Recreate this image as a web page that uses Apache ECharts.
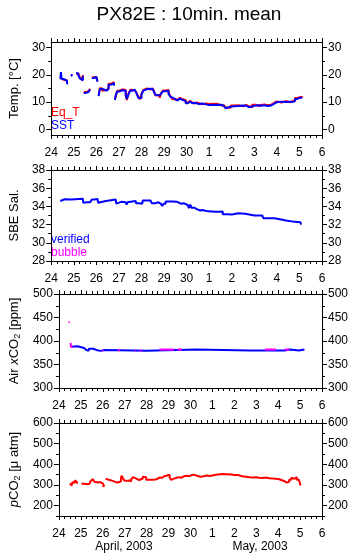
<!DOCTYPE html>
<html>
<head>
<meta charset="utf-8">
<script src="https://cdn.jsdelivr.net/npm/echarts@6/dist/echarts.min.js"></script>
<style>
  html, body { margin: 0; padding: 0; background: #fff; }
  #chart { width: 355px; height: 558px; }
</style>
</head>
<body>
<div id="chart"></div>
<script>
// x = days since 24 April 2003 00:00, null = gap in the record
const dayLabels = ['24', '25', '26', '27', '28', '29', '30', '1', '2', '3', '4', '5', '6'];

const sst = [
  [0.40, 18.5], [0.43, 21.0], [0.46, 18.5], [0.55, 18.3], [0.62, 17.8], [0.70, 16.8], [0.75, 16.6], null,
  [0.88, 19.5], [0.93, 20.2], null,
  [1.10, 20.6], [1.20, 19.8], [1.28, 18.6], [1.36, 18.0], [1.40, 19.6], null,
  [1.44, 13.4], [1.55, 13.8], [1.66, 14.3], [1.72, 14.6], null,
  [1.80, 18.8], [1.90, 19.3], [2.00, 18.9], [2.05, 17.5], null,
  [2.10, 12.2], [2.15, 14.8], [2.25, 14.6], [2.35, 14.2], [2.45, 14.8], [2.54, 16.4], [2.65, 16.2], [2.72, 17.0], [2.78, 16.0], null,
  [2.82, 10.8], [2.86, 12.5], [2.92, 13.9], [3.02, 14.4], [3.15, 14.6], [3.22, 14.2], [3.30, 12.4], [3.35, 11.2],
  [3.42, 12.8], [3.50, 14.2], [3.60, 14.6], [3.70, 14.3], [3.78, 13.2], [3.86, 11.6], [3.92, 11.4], [4.00, 12.8],
  [4.08, 14.2], [4.15, 14.8], [4.25, 14.9], [4.40, 14.8], [4.50, 14.6], [4.56, 13.6], [4.62, 12.7], [4.70, 12.4],
  [4.80, 11.9], [4.88, 13.2], [4.96, 14.0], [5.05, 14.6], [5.12, 14.2], [5.20, 13.0], [5.28, 12.0], [5.36, 11.4],
  [5.45, 10.8], [5.52, 10.6], [5.60, 11.3], [5.70, 10.9], [5.80, 11.3], [5.88, 10.4], [5.96, 9.6], [6.05, 10.2],
  [6.15, 9.6], [6.25, 9.8], [6.35, 9.6], [6.45, 9.3], [6.55, 9.5], [6.70, 9.2], [6.85, 9.0], [7.00, 9.1],
  [7.20, 9.0], [7.40, 9.1], [7.55, 8.6], [7.65, 8.2], [7.72, 7.8], [7.80, 8.3], [7.95, 8.5], [8.10, 8.6],
  [8.30, 8.8], [8.50, 8.7], [8.65, 8.2], [8.75, 8.4], [8.90, 8.8], [9.05, 8.9], [9.20, 8.7], [9.30, 8.9],
  [9.45, 8.6], [9.60, 8.8], [9.75, 9.4], [9.87, 10.0], [10.00, 10.2], [10.20, 10.1], [10.40, 10.2], [10.60, 10.1],
  [10.70, 10.3], [10.80, 11.2], [10.90, 11.5], [11.00, 11.7], [11.12, 11.8]
];

const eqT = [
  [0.40, 18.8], [0.46, 18.2], [0.55, 18.6], [0.62, 18.0], [0.70, 17.1], null,
  [0.88, 19.8], [0.93, 20.0], null,
  [1.10, 20.4], [1.20, 20.1], [1.28, 18.9], [1.36, 18.4], [1.40, 19.9], null,
  [1.44, 13.7], [1.55, 14.1], [1.66, 14.0], [1.72, 14.9], null,
  [1.80, 19.1], [1.90, 19.0], [2.00, 19.2], [2.05, 17.8], null,
  [2.10, 12.6], [2.15, 15.1], [2.25, 14.3], [2.35, 14.5], [2.45, 15.1], [2.54, 16.7], [2.65, 16.5], [2.72, 17.3], [2.78, 16.3], null,
  [2.82, 11.2], [2.86, 12.2], [2.92, 14.2], [3.02, 14.7], [3.15, 14.3], [3.22, 14.5], [3.30, 12.7], [3.35, 10.8],
  [3.42, 13.1], [3.50, 14.5], [3.60, 14.3], [3.70, 14.6], [3.78, 13.5], [3.86, 11.9], [3.92, 11.1], [4.00, 13.1],
  [4.08, 14.5], [4.15, 15.0], [4.25, 14.6], [4.40, 15.0], [4.50, 14.9], [4.56, 13.9], [4.62, 12.4], [4.70, 12.7],
  [4.80, 11.6], [4.88, 13.5], [4.96, 14.3], [5.05, 14.9], [5.12, 14.5], [5.20, 13.3], [5.28, 12.3], [5.36, 11.1],
  [5.45, 11.1], [5.52, 10.9], [5.60, 11.6], [5.70, 11.2], [5.80, 11.0], [5.88, 10.7], [5.96, 9.9], [6.05, 10.5],
  [6.15, 9.9], [6.25, 9.5], [6.35, 9.9], [6.45, 9.6], [6.55, 9.2], [6.70, 9.5], [6.85, 9.3], [7.00, 9.4],
  [7.20, 9.3], [7.40, 8.8], [7.55, 8.9], [7.65, 8.5], [7.72, 8.1], [7.80, 8.0], [7.95, 8.8], [8.10, 8.9],
  [8.30, 8.5], [8.50, 9.0], [8.65, 8.5], [8.75, 8.1], [8.90, 9.1], [9.05, 8.6], [9.20, 9.0], [9.30, 9.2],
  [9.45, 8.9], [9.60, 9.1], [9.75, 9.7], [9.87, 10.3], [10.00, 9.9], [10.20, 10.4], [10.40, 10.0], [10.60, 10.4],
  [10.70, 10.6], [10.80, 11.5], [10.90, 11.8], [11.00, 12.0], [11.12, 11.7]
];

const salVerified = [
  [0.40, 34.6], [0.42, 34.78], [0.60, 34.75], [0.88, 34.75], [0.95, 34.85], [1.40, 34.85], [1.42, 34.4], [1.50, 34.45],
  [1.58, 34.35], [1.65, 34.45], [1.72, 34.25], [1.76, 34.45], [1.80, 34.75], [1.90, 34.82], [2.05, 34.8], [2.08, 34.4],
  [2.12, 34.6], [2.42, 34.6], [2.45, 34.75], [2.86, 34.75], [2.88, 34.3], [2.92, 34.5], [3.10, 34.45], [3.30, 34.5],
  [3.34, 34.2], [3.38, 34.45], [3.45, 34.6], [3.74, 34.6], [3.76, 34.35], [3.90, 34.3], [4.03, 34.45], [4.06, 34.65],
  [4.40, 34.6], [4.45, 34.35], [4.60, 34.45], [4.75, 34.3], [4.85, 34.2], [4.92, 34.05], [4.98, 34.3], [5.07, 34.55],
  [5.35, 34.5], [5.58, 34.55], [5.62, 34.3], [5.75, 34.35], [5.87, 34.2], [5.95, 34.15], [6.05, 34.1], [6.10, 33.8],
  [6.16, 34.2], [6.22, 33.85], [6.35, 33.7], [6.45, 33.65], [6.50, 33.55], [6.60, 33.6], [6.70, 33.5], [6.87, 33.45],
  [7.10, 33.4], [7.30, 33.4], [7.45, 33.45], [7.60, 33.15], [7.80, 33.1], [8.00, 33.25], [8.30, 33.2], [8.60, 33.15],
  [8.65, 33.0], [9.00, 33.0], [9.35, 32.95], [9.40, 32.7], [9.90, 32.7], [9.95, 32.5], [10.30, 32.45], [10.40, 32.3],
  [10.80, 32.25], [11.05, 32.2], [11.07, 32.0]
];

const airVerified = [
  [0.56, 388], [0.60, 389], [0.85, 389], [0.87, 385], [1.15, 385], [1.17, 381], [1.25, 381], [1.27, 379],
  [1.35, 379], [1.37, 383.5], [1.57, 383.5], [1.59, 381], [1.70, 381], [1.72, 379], [1.90, 379], [1.92, 381],
  [2.10, 381], [2.12, 379.5], [4.00, 379.5], [4.02, 382], [6.27, 382], [6.29, 380], [8.70, 380], [8.72, 382],
  [8.76, 380], [10.30, 380], [10.32, 382], [10.55, 382], [10.57, 380], [10.95, 380], [10.97, 382], [11.20, 382]
];

const airBubble = [
  [0.45, 439], [0.49, 441], null,
  [0.50, 409], [0.53, 409], null, [0.58, 409], [0.61, 409], null,
  [0.53, 396], [0.55, 387], [0.62, 388], null,
  [1.98, 380.5], [2.03, 380.5], null, [2.70, 380.5], [2.78, 380.5], null,
  [3.48, 380.5], [3.52, 380.5], null, [3.68, 380], [3.76, 380], null,
  [4.58, 382], [5.25, 382], null, [5.40, 382], [5.60, 382], null,
  [9.40, 382], [9.90, 382], null, [10.30, 382], [10.50, 382]
];

const pco2 = [
  [0.50, 308], [0.55, 312], [0.58, 297], [0.62, 314], [0.68, 310], [0.72, 322], [0.78, 315], [0.82, 306], null,
  [1.03, 306], [1.15, 304], [1.30, 306], [1.40, 310], [1.45, 320], [1.50, 328], [1.55, 325], [1.62, 316],
  [1.70, 312], [1.80, 314], [1.90, 310], [1.98, 305], [2.03, 290], [2.06, 300], null,
  [2.13, 330], [2.20, 325], [2.28, 330], [2.35, 320], [2.45, 315], [2.57, 312], [2.70, 310], [2.79, 318],
  [2.83, 335], [2.87, 345], [2.93, 330], [3.00, 320], [3.10, 322], [3.20, 318], [3.30, 328], [3.38, 338],
  [3.45, 330], [3.55, 324], [3.65, 326], [3.74, 330], [3.82, 340], [3.90, 338], [3.98, 326], [4.10, 325],
  [4.25, 327], [4.40, 330], [4.50, 337], [4.60, 334], [4.70, 342], [4.80, 345], [4.90, 340], [4.97, 350],
  [5.05, 336], [5.12, 325], [5.20, 333], [5.30, 338], [5.45, 335], [5.57, 342], [5.70, 345], [5.85, 343],
  [5.95, 348], [6.05, 350], [6.15, 345], [6.30, 340], [6.45, 342], [6.60, 346], [6.75, 344], [6.90, 347],
  [7.05, 351], [7.25, 353], [7.45, 352], [7.65, 351], [7.85, 348], [8.00, 349], [8.15, 342], [8.35, 340],
  [8.55, 337], [8.70, 336], [8.85, 338], [9.00, 335], [9.15, 334], [9.30, 336], [9.45, 333], [9.60, 332],
  [9.75, 330], [9.90, 328], [10.05, 322], [10.20, 318], [10.30, 312], [10.40, 315], [10.50, 325], [10.60, 335],
  [10.68, 330], [10.75, 338], [10.85, 325], [10.95, 318], [11.00, 305], [11.03, 298]
];

const tempTicks = [0, 10, 20, 30], tempMinor = [5, 15, 25];
const salTicks = [28, 30, 32, 34, 36, 38], salMinor = [29, 31, 33, 35, 37];
const airTicks = [300, 350, 400, 450, 500], airMinor = [325, 375, 425, 475];
const pco2Ticks = [200, 300, 400, 500, 600], pco2Minor = [150, 250, 350, 450, 550];

const FONT = 'Liberation Sans';
const BLACK = '#000';

// panel layout: top / height of each plot box
const panels = [
  { top: 42, height: 93, min: -2, max: 32, ticks: tempTicks, minor: tempMinor, name: 'Temp. [°C]' },
  { top: 170, height: 91, min: 28, max: 38, ticks: salTicks, minor: salMinor, name: 'SBE Sal.' },
  { top: 294, height: 94, min: 300, max: 500, ticks: airTicks, minor: airMinor, name: '{n|Air }{i|x}{n|CO}{s|2}{n| [ppm]}' },
  { top: 423, height: 93, min: 150, max: 600, ticks: pco2Ticks, minor: pco2Minor, name: '{i|p}{n|CO}{s|2}{n| [μ atm]}' }
];

const rich = {
  n: { fontFamily: FONT, fontSize: 13, color: BLACK },
  i: { fontFamily: FONT, fontSize: 13, color: BLACK, fontStyle: 'italic' },
  s: { fontFamily: FONT, fontSize: 9, color: BLACK, padding: [6, 0, 0, 0] }
};

const grids = [], xAxes = [], yAxes = [];
panels.forEach((p, g) => {
  grids.push({ left: 49, right: 33, top: p.top, height: p.height });
  ['bottom', 'top'].forEach(pos => {
    xAxes.push({
      type: 'value', gridIndex: g, position: pos, min: 0, max: 12, interval: 1,
      axisLine: { onZero: false, lineStyle: { color: BLACK, width: 1 } },
      axisTick: { length: 4, lineStyle: { color: BLACK } },
      minorTick: { show: true, splitNumber: 4, length: 3, lineStyle: { color: BLACK } },
      axisLabel: {
        show: pos === 'bottom', margin: 12, color: BLACK, fontSize: 12, fontFamily: FONT,
        formatter: v => dayLabels[v]
      },
      splitLine: { show: false }
    });
  });
  ['left', 'right'].forEach(pos => {
    yAxes.push({
      type: 'value', gridIndex: g, position: pos, min: p.min, max: p.max,
      axisLine: { show: true, onZero: false, lineStyle: { color: BLACK, width: 1 } },
      axisTick: { length: 5, customValues: p.ticks, lineStyle: { color: BLACK } },
      axisLabel: { customValues: p.ticks, margin: 6, color: BLACK, fontSize: 12, fontFamily: FONT },
      splitLine: { show: false },
      name: pos === 'left' ? p.name : '',
      nameLocation: 'middle', nameGap: 30,
      nameTextStyle: { color: BLACK, fontSize: 13, fontFamily: FONT, rich: rich }
    });
    // minor ticks only
    yAxes.push({
      type: 'value', gridIndex: g, position: pos, min: p.min, max: p.max,
      axisLine: { show: false, onZero: false },
      axisTick: { length: 3, customValues: p.minor, lineStyle: { color: BLACK } },
      axisLabel: { show: false },
      splitLine: { show: false }
    });
  });
});

const gaps = arr => arr.map(v => v === null ? ['-', '-'] : v);

function line(data, g, color, step) {
  return {
    type: 'line', xAxisIndex: 2 * g, yAxisIndex: 4 * g, data: gaps(data),
    showSymbol: false, step: step, connectNulls: false,
    lineStyle: { color: color, width: 2 }, itemStyle: { color: color }
  };
}

function text(str, x, y, color, size, align) {
  return {
    type: 'text', x: x, y: y,
    style: { text: str, fill: color, font: size + 'px "' + FONT + '"', textAlign: align || 'left', textVerticalAlign: 'middle' }
  };
}

const chart = echarts.init(document.getElementById('chart'), null, { renderer: 'canvas' });
chart.setOption({
  animation: false,
  backgroundColor: '#fff',
  title: {
    text: 'PX82E : 10min. mean', left: 184, top: 0, textAlign: 'center',
    textStyle: { color: BLACK, fontSize: 19, fontWeight: 'normal', fontFamily: FONT }
  },
  grid: grids,
  xAxis: xAxes,
  yAxis: yAxes,
  series: [
    line(eqT, 0, '#ff0000', 'end'),
    line(sst, 0, '#0000ff', 'end'),
    line(salVerified, 1, '#0000ff', 'end'),
    line(airVerified, 2, '#0000ff', false),
    line(airBubble, 2, '#ff00ff', false),
    line(pco2, 3, '#ff0000', 'end')
  ],
  graphic: [
    text('Eq_T', 51, 113, '#ff0000', 12),
    text('SST', 51, 126, '#0000ff', 12),
    text('verified', 51, 240, '#0000ff', 12),
    text('bubble', 51, 253, '#ff00ff', 12),
    text('April, 2003', 124, 547, BLACK, 12, 'center'),
    text('May, 2003', 260, 547, BLACK, 12, 'center')
  ]
});
</script>
</body>
</html>
